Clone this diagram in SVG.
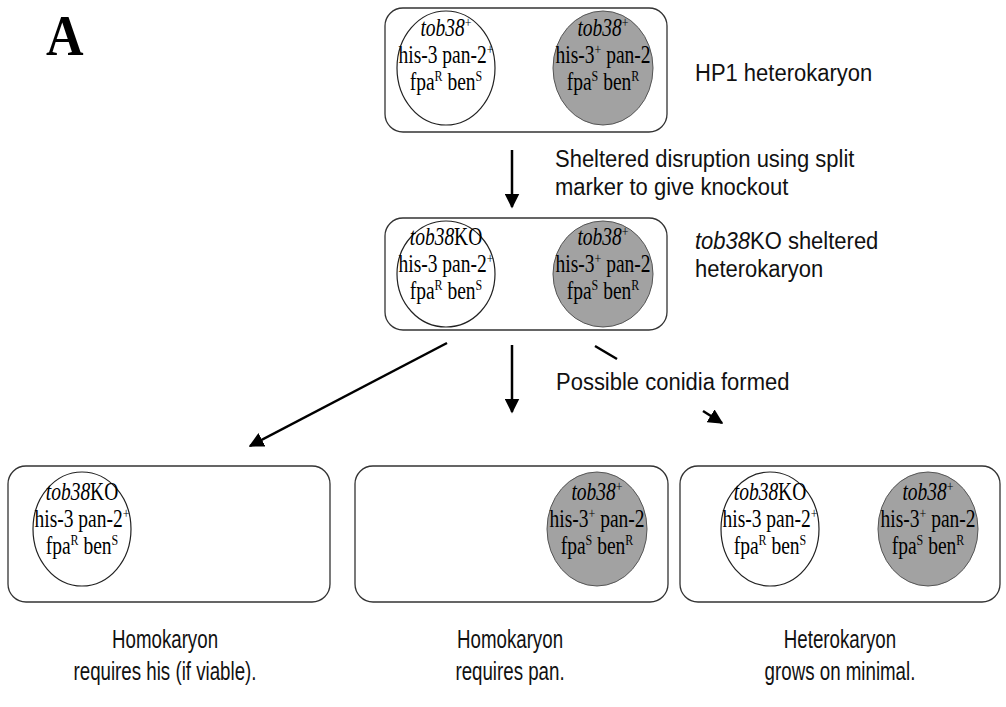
<svg xmlns="http://www.w3.org/2000/svg" width="1006" height="707" viewBox="0 0 1006 707">
<defs>
<style>
.box{fill:#fff;stroke:#333;stroke-width:1.3}
.wc{fill:#fff;stroke:#222;stroke-width:1.2}
.gc{fill:#a2a2a2;stroke:#555;stroke-width:1}
.ct{font-family:"Liberation Serif",serif;font-size:19.5px;text-anchor:middle;fill:#000}
.it{font-style:italic}
.lb{font-family:"Liberation Sans",Arial,sans-serif;font-size:22px;fill:#111}
.lc{text-anchor:middle;font-size:26px}
.ar{stroke:#000;stroke-width:2.5;fill:none}
</style>
<marker id="ah" viewBox="0 0 10 10" refX="9" refY="5" markerWidth="6" markerHeight="6" markerUnits="strokeWidth" orient="auto">
<path d="M0,0 L10,5 L0,10 z" fill="#000"/>
</marker>
</defs>
<rect width="1006" height="707" fill="#fff"/>
<text x="0" y="0" font-family="Liberation Serif,serif" font-weight="bold" font-size="52" transform="translate(46,55) scale(1,1.1)">A</text>

<g id="hp1">
<rect class="box" x="385" y="8" width="282" height="124" rx="18"/>
<ellipse class="wc" cx="446" cy="68" rx="49" ry="57"/>
<ellipse class="gc" cx="603" cy="68" rx="50" ry="57"/>
<text class="ct" transform="translate(446,36) scale(1,1.25)"><tspan class="it">tob38</tspan><tspan dy="-7" font-size="12">+</tspan></text>
<text class="ct" transform="translate(446,63) scale(1,1.25)">his-3 pan-2<tspan dy="-7" font-size="12">+</tspan></text>
<text class="ct" transform="translate(446,90) scale(1,1.25)">fpa<tspan dy="-7" font-size="12">R</tspan><tspan dy="7"> ben</tspan><tspan dy="-7" font-size="12">S</tspan></text>
<text class="ct" transform="translate(603,36) scale(1,1.25)"><tspan class="it">tob38</tspan><tspan dy="-7" font-size="12">+</tspan></text>
<text class="ct" transform="translate(603,63) scale(1,1.25)">his-3<tspan dy="-7" font-size="12">+</tspan><tspan dy="7"> pan-2</tspan></text>
<text class="ct" transform="translate(603,90) scale(1,1.25)">fpa<tspan dy="-7" font-size="12">S</tspan><tspan dy="7"> ben</tspan><tspan dy="-7" font-size="12">R</tspan></text>
<text class="lb" transform="translate(695,81) scale(1,1.1)">HP1 heterokaryon</text>
</g>

<g id="ko">
<rect class="box" x="385" y="218" width="282" height="112" rx="18"/>
<ellipse class="wc" cx="446" cy="274" rx="49" ry="53"/>
<ellipse class="gc" cx="603" cy="274" rx="50" ry="53"/>
<text class="ct" transform="translate(446,245) scale(1,1.25)"><tspan class="it">tob38</tspan>KO</text>
<text class="ct" transform="translate(446,272) scale(1,1.25)">his-3 pan-2<tspan dy="-7" font-size="12">+</tspan></text>
<text class="ct" transform="translate(446,299) scale(1,1.25)">fpa<tspan dy="-7" font-size="12">R</tspan><tspan dy="7"> ben</tspan><tspan dy="-7" font-size="12">S</tspan></text>
<text class="ct" transform="translate(603,245) scale(1,1.25)"><tspan class="it">tob38</tspan><tspan dy="-7" font-size="12">+</tspan></text>
<text class="ct" transform="translate(603,272) scale(1,1.25)">his-3<tspan dy="-7" font-size="12">+</tspan><tspan dy="7"> pan-2</tspan></text>
<text class="ct" transform="translate(603,299) scale(1,1.25)">fpa<tspan dy="-7" font-size="12">S</tspan><tspan dy="7"> ben</tspan><tspan dy="-7" font-size="12">R</tspan></text>
<text class="lb" transform="translate(695,249) scale(1,1.1)"><tspan class="it">tob38</tspan>KO sheltered</text>
<text class="lb" transform="translate(695,277) scale(1,1.1)">heterokaryon</text>
</g>

<g id="homo-his">
<rect class="box" x="8" y="466" width="322" height="136" rx="18"/>
<ellipse class="wc" cx="82" cy="529" rx="49" ry="57"/>
<text class="ct" transform="translate(82,500) scale(1,1.25)"><tspan class="it">tob38</tspan>KO</text>
<text class="ct" transform="translate(82,527) scale(1,1.25)">his-3 pan-2<tspan dy="-7" font-size="12">+</tspan></text>
<text class="ct" transform="translate(82,554) scale(1,1.25)">fpa<tspan dy="-7" font-size="12">R</tspan><tspan dy="7"> ben</tspan><tspan dy="-7" font-size="12">S</tspan></text>
<text class="lb lc" transform="translate(165,648) scale(0.72,1)">Homokaryon</text>
<text class="lb lc" transform="translate(165,680) scale(0.72,1)">requires his (if viable).</text>
</g>

<g id="homo-pan">
<rect class="box" x="355" y="466" width="313" height="136" rx="18"/>
<ellipse class="gc" cx="597" cy="529" rx="50" ry="57"/>
<text class="ct" transform="translate(597,500) scale(1,1.25)"><tspan class="it">tob38</tspan><tspan dy="-7" font-size="12">+</tspan></text>
<text class="ct" transform="translate(597,527) scale(1,1.25)">his-3<tspan dy="-7" font-size="12">+</tspan><tspan dy="7"> pan-2</tspan></text>
<text class="ct" transform="translate(597,554) scale(1,1.25)">fpa<tspan dy="-7" font-size="12">S</tspan><tspan dy="7"> ben</tspan><tspan dy="-7" font-size="12">R</tspan></text>
<text class="lb lc" transform="translate(510,648) scale(0.72,1)">Homokaryon</text>
<text class="lb lc" transform="translate(510,680) scale(0.72,1)">requires pan.</text>
</g>

<g id="hetero">
<rect class="box" x="680" y="466" width="320" height="136" rx="18"/>
<ellipse class="wc" cx="770" cy="529" rx="49" ry="57"/>
<ellipse class="gc" cx="928" cy="529" rx="50" ry="57"/>
<text class="ct" transform="translate(770,500) scale(1,1.25)"><tspan class="it">tob38</tspan>KO</text>
<text class="ct" transform="translate(770,527) scale(1,1.25)">his-3 pan-2<tspan dy="-7" font-size="12">+</tspan></text>
<text class="ct" transform="translate(770,554) scale(1,1.25)">fpa<tspan dy="-7" font-size="12">R</tspan><tspan dy="7"> ben</tspan><tspan dy="-7" font-size="12">S</tspan></text>
<text class="ct" transform="translate(928,500) scale(1,1.25)"><tspan class="it">tob38</tspan><tspan dy="-7" font-size="12">+</tspan></text>
<text class="ct" transform="translate(928,527) scale(1,1.25)">his-3<tspan dy="-7" font-size="12">+</tspan><tspan dy="7"> pan-2</tspan></text>
<text class="ct" transform="translate(928,554) scale(1,1.25)">fpa<tspan dy="-7" font-size="12">S</tspan><tspan dy="7"> ben</tspan><tspan dy="-7" font-size="12">R</tspan></text>
<text class="lb lc" transform="translate(840,648) scale(0.72,1)">Heterokaryon</text>
<text class="lb lc" transform="translate(840,680) scale(0.72,1)">grows on minimal.</text>
</g>

<g id="connectors">
<line class="ar" x1="512" y1="150" x2="512" y2="207" marker-end="url(#ah)"/>
<text class="lb" transform="translate(555,167) scale(1,1.1)">Sheltered disruption using split</text>
<text class="lb" transform="translate(555,195) scale(1,1.1)">marker to give knockout</text>
<line class="ar" x1="447" y1="343" x2="250" y2="446" marker-end="url(#ah)"/>
<line class="ar" x1="512" y1="345" x2="512" y2="412" marker-end="url(#ah)"/>
<line class="ar" x1="595" y1="346" x2="617" y2="359"/>
<line class="ar" x1="703" y1="411" x2="722" y2="423" marker-end="url(#ah)"/>
<text class="lb" transform="translate(556,390) scale(1,1.1)">Possible conidia formed</text>
</g>
</svg>
